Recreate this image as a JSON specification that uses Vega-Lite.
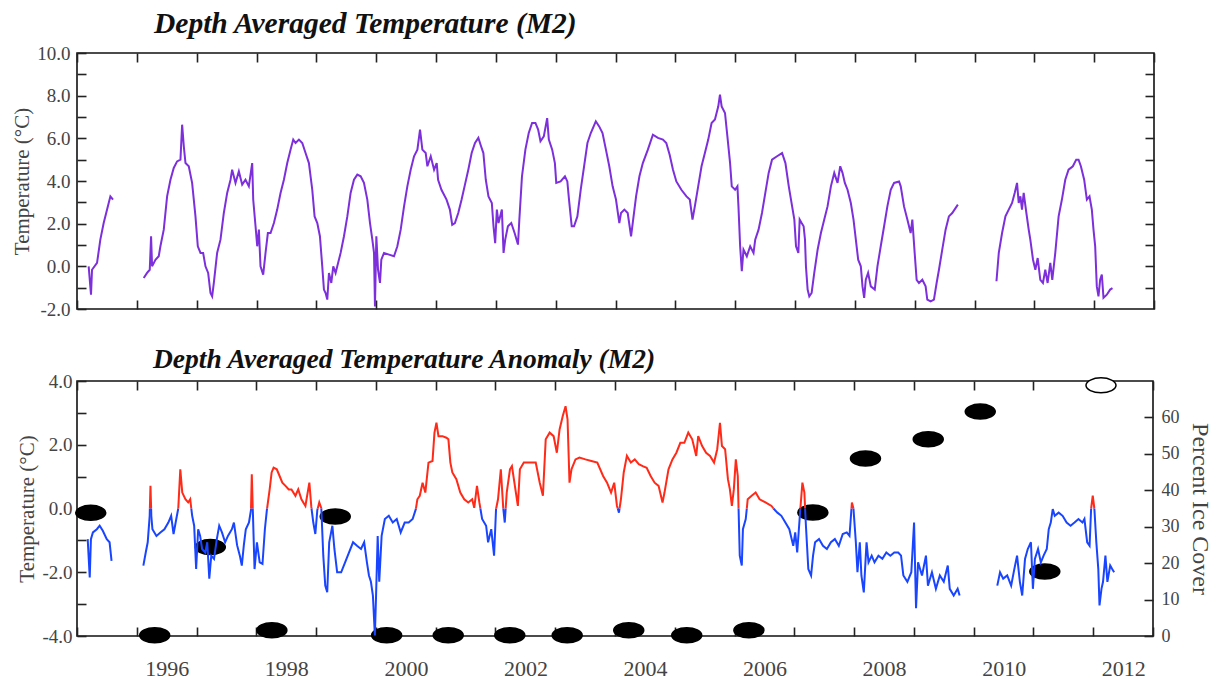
{
  "$schema": "https://vega.github.io/schema/vega-lite/v6.json",
  "background": "white",
  "padding": {"left": 10, "top": 7, "right": 8, "bottom": 0},
  "spacing": 24,
  "config": {
    "font": "Liberation Serif",
    "view": {"stroke": "#111", "strokeWidth": 1.6},
    "axis": {
      "domain": false, "grid": false, "tickColor": "#222", "tickWidth": 1.6, "tickSize": -9,
      "labelFont": "Liberation Serif", "labelFontSize": 19, "labelColor": "#444",
      "titleFont": "Liberation Serif", "titleFontWeight": "normal", "titleColor": "#444", "titleFontSize": 21,
      "labelOverlap": false, "labelFlush": false
    },
    "title": {"font": "Liberation Serif", "fontSize": 29, "fontWeight": "bold", "fontStyle": "italic", "anchor": "start", "frame": "group", "color": "#111"}
  },
  "datasets": {
    "temp": [
      {"t":1995.195,"v":0.00,"s":1},{"t":1995.234,"v":-1.33,"s":1},{"t":1995.251,"v":-0.16,"s":1},{"t":1995.335,"v":0.16,"s":1},{"t":1995.390,"v":1.25,"s":1},{"t":1995.446,"v":2.03,"s":1},{"t":1995.530,"v":2.97,"s":1},{"t":1995.558,"v":3.28,"s":1},{"t":1995.602,"v":3.13,"s":1},
      {"t":1996.115,"v":-0.55,"s":2},{"t":1996.171,"v":-0.31,"s":2},{"t":1996.216,"v":-0.16,"s":2},{"t":1996.238,"v":1.41,"s":2},{"t":1996.255,"v":0.00,"s":2},{"t":1996.311,"v":0.31,"s":2},{"t":1996.366,"v":0.47,"s":2},{"t":1996.394,"v":0.94,"s":2},{"t":1996.450,"v":1.72,"s":2},{"t":1996.506,"v":3.28,"s":2},{"t":1996.562,"v":4.06,"s":2},{"t":1996.617,"v":4.61,"s":2},{"t":1996.673,"v":4.92,"s":2},{"t":1996.729,"v":5.00,"s":2},{"t":1996.757,"v":6.64,"s":2},{"t":1996.785,"v":5.63,"s":2},{"t":1996.813,"v":4.84,"s":2},{"t":1996.868,"v":4.69,"s":2},{"t":1996.924,"v":3.91,"s":2},{"t":1996.980,"v":2.34,"s":2},{"t":1997.019,"v":0.94,"s":2},{"t":1997.064,"v":0.63,"s":2},{"t":1997.108,"v":0.63,"s":2},{"t":1997.147,"v":0.00,"s":2},{"t":1997.192,"v":-0.31,"s":2},{"t":1997.231,"v":-1.25,"s":2},{"t":1997.259,"v":-1.41,"s":2},{"t":1997.287,"v":-0.78,"s":2},{"t":1997.342,"v":0.63,"s":2},{"t":1997.398,"v":1.25,"s":2},{"t":1997.454,"v":2.50,"s":2},{"t":1997.510,"v":3.44,"s":2},{"t":1997.566,"v":4.06,"s":2},{"t":1997.593,"v":4.53,"s":2},{"t":1997.649,"v":3.91,"s":2},{"t":1997.705,"v":4.45,"s":2},{"t":1997.761,"v":3.83,"s":2},{"t":1997.816,"v":4.06,"s":2},{"t":1997.872,"v":3.75,"s":2},{"t":1997.928,"v":4.84,"s":2},{"t":1997.945,"v":3.13,"s":2},{"t":1997.984,"v":1.88,"s":2},{"t":1998.012,"v":0.94,"s":2},{"t":1998.040,"v":1.72,"s":2},{"t":1998.067,"v":0.00,"s":2},{"t":1998.112,"v":-0.39,"s":2},{"t":1998.151,"v":0.63,"s":2},{"t":1998.190,"v":1.56,"s":2},{"t":1998.235,"v":1.56,"s":2},{"t":1998.291,"v":2.03,"s":2},{"t":1998.346,"v":2.66,"s":2},{"t":1998.402,"v":3.44,"s":2},{"t":1998.458,"v":4.06,"s":2},{"t":1998.514,"v":4.84,"s":2},{"t":1998.569,"v":5.47,"s":2},{"t":1998.614,"v":5.94,"s":2},{"t":1998.653,"v":5.78,"s":2},{"t":1998.709,"v":5.94,"s":2},{"t":1998.765,"v":5.78,"s":2},{"t":1998.820,"v":5.31,"s":2},{"t":1998.876,"v":4.84,"s":2},{"t":1998.932,"v":3.59,"s":2},{"t":1998.971,"v":2.34,"s":2},{"t":1999.016,"v":2.03,"s":2},{"t":1999.060,"v":1.41,"s":2},{"t":1999.099,"v":0.00,"s":2},{"t":1999.127,"v":-1.09,"s":2},{"t":1999.155,"v":-1.25,"s":2},{"t":1999.183,"v":-1.56,"s":2},{"t":1999.211,"v":-0.31,"s":2},{"t":1999.250,"v":-0.78,"s":2},{"t":1999.283,"v":0.00,"s":2},{"t":1999.322,"v":-0.31,"s":2},{"t":1999.350,"v":0.00,"s":2},{"t":1999.406,"v":0.63,"s":2},{"t":1999.462,"v":1.41,"s":2},{"t":1999.518,"v":2.34,"s":2},{"t":1999.573,"v":3.44,"s":2},{"t":1999.629,"v":4.06,"s":2},{"t":1999.685,"v":4.30,"s":2},{"t":1999.741,"v":4.22,"s":2},{"t":1999.796,"v":3.91,"s":2},{"t":1999.852,"v":3.13,"s":2},{"t":1999.897,"v":2.03,"s":2},{"t":1999.936,"v":1.25,"s":2},{"t":1999.964,"v":0.63,"s":2},{"t":1999.980,"v":-1.88,"s":2},{"t":2000.003,"v":1.41,"s":2},{"t":2000.031,"v":-0.16,"s":2},{"t":2000.064,"v":-0.78,"s":2},{"t":2000.086,"v":0.31,"s":2},{"t":2000.131,"v":0.63,"s":2},{"t":2000.215,"v":0.55,"s":2},{"t":2000.298,"v":0.47,"s":2},{"t":2000.354,"v":0.94,"s":2},{"t":2000.410,"v":1.72,"s":2},{"t":2000.466,"v":2.81,"s":2},{"t":2000.521,"v":3.75,"s":2},{"t":2000.577,"v":4.53,"s":2},{"t":2000.633,"v":5.16,"s":2},{"t":2000.689,"v":5.47,"s":2},{"t":2000.733,"v":6.41,"s":2},{"t":2000.772,"v":5.47,"s":2},{"t":2000.828,"v":5.31,"s":2},{"t":2000.856,"v":4.69,"s":2},{"t":2000.912,"v":5.16,"s":2},{"t":2000.968,"v":4.53,"s":2},{"t":2001.012,"v":4.84,"s":2},
      {"t":2001.035,"v":4.06,"s":2},{"t":2001.091,"v":3.59,"s":2},{"t":2001.176,"v":3.13,"s":2},{"t":2001.232,"v":2.66,"s":2},{"t":2001.271,"v":1.95,"s":2},{"t":2001.316,"v":2.03,"s":2},{"t":2001.372,"v":2.50,"s":2},{"t":2001.428,"v":3.13,"s":2},{"t":2001.484,"v":3.83,"s":2},{"t":2001.540,"v":4.53,"s":2},{"t":2001.596,"v":5.31,"s":2},{"t":2001.652,"v":5.78,"s":2},{"t":2001.708,"v":6.02,"s":2},{"t":2001.753,"v":5.63,"s":2},{"t":2001.792,"v":5.31,"s":2},{"t":2001.832,"v":4.06,"s":2},{"t":2001.877,"v":3.28,"s":2},{"t":2001.933,"v":2.97,"s":2},{"t":2001.961,"v":1.88,"s":2},{"t":2001.989,"v":1.09,"s":2},{"t":2002.017,"v":2.66,"s":2},{"t":2002.045,"v":2.03,"s":2},{"t":2002.101,"v":2.66,"s":2},{"t":2002.129,"v":0.63,"s":2},{"t":2002.157,"v":1.25,"s":2},{"t":2002.202,"v":1.88,"s":2},{"t":2002.258,"v":2.03,"s":2},{"t":2002.314,"v":1.56,"s":2},{"t":2002.370,"v":1.02,"s":2},{"t":2002.393,"v":2.19,"s":2},{"t":2002.437,"v":4.22,"s":2},{"t":2002.494,"v":5.47,"s":2},{"t":2002.550,"v":6.25,"s":2},{"t":2002.606,"v":6.72,"s":2},{"t":2002.662,"v":6.72,"s":2},{"t":2002.707,"v":6.41,"s":2},{"t":2002.746,"v":5.86,"s":2},{"t":2002.802,"v":6.09,"s":2},{"t":2002.858,"v":6.95,"s":2},{"t":2002.886,"v":5.94,"s":2},{"t":2002.942,"v":5.47,"s":2},{"t":2002.987,"v":4.84,"s":2},{"t":2003.010,"v":3.91,"s":2},{"t":2003.082,"v":3.98,"s":2},{"t":2003.155,"v":4.22,"s":2},{"t":2003.195,"v":3.98,"s":2},{"t":2003.223,"v":3.13,"s":2},{"t":2003.268,"v":1.88,"s":2},{"t":2003.307,"v":1.88,"s":2},{"t":2003.363,"v":2.34,"s":2},{"t":2003.419,"v":3.59,"s":2},{"t":2003.475,"v":4.69,"s":2},{"t":2003.531,"v":5.78,"s":2},{"t":2003.587,"v":6.25,"s":2},{"t":2003.671,"v":6.80,"s":2},{"t":2003.727,"v":6.56,"s":2},{"t":2003.783,"v":6.25,"s":2},{"t":2003.840,"v":5.47,"s":2},{"t":2003.896,"v":4.69,"s":2},{"t":2003.952,"v":3.75,"s":2},{"t":2004.008,"v":3.13,"s":2},{"t":2004.064,"v":2.03,"s":2},{"t":2004.092,"v":2.50,"s":2},{"t":2004.148,"v":2.66,"s":2},{"t":2004.204,"v":2.50,"s":2},{"t":2004.260,"v":1.41,"s":2},{"t":2004.288,"v":2.03,"s":2},{"t":2004.344,"v":3.28,"s":2},{"t":2004.400,"v":4.22,"s":2},{"t":2004.457,"v":4.84,"s":2},{"t":2004.541,"v":5.47,"s":2},{"t":2004.625,"v":6.17,"s":2},{"t":2004.709,"v":6.02,"s":2},{"t":2004.793,"v":5.94,"s":2},{"t":2004.849,"v":5.78,"s":2},{"t":2004.905,"v":5.23,"s":2},{"t":2004.961,"v":4.53,"s":2},{"t":2005.017,"v":3.98,"s":2},{"t":2005.101,"v":3.59,"s":2},{"t":2005.186,"v":3.28,"s":2},{"t":2005.242,"v":3.13,"s":2},{"t":2005.287,"v":2.19,"s":2},{"t":2005.326,"v":2.81,"s":2},{"t":2005.382,"v":3.75,"s":2},{"t":2005.438,"v":4.69,"s":2},{"t":2005.494,"v":5.31,"s":2},{"t":2005.550,"v":5.94,"s":2},{"t":2005.606,"v":6.72,"s":2},{"t":2005.662,"v":6.88,"s":2},{"t":2005.718,"v":7.50,"s":2},{"t":2005.746,"v":8.05,"s":2},{"t":2005.774,"v":7.50,"s":2},{"t":2005.830,"v":7.19,"s":2},{"t":2005.870,"v":6.09,"s":2},{"t":2005.915,"v":4.84,"s":2},{"t":2005.943,"v":3.75,"s":2},{"t":2005.999,"v":3.59,"s":2},{"t":2006.038,"v":3.75,"s":2},{"t":2006.055,"v":2.81,"s":2},{"t":2006.083,"v":0.94,"s":2},{"t":2006.111,"v":-0.23,"s":2},{"t":2006.139,"v":0.78,"s":2},{"t":2006.195,"v":0.47,"s":2},{"t":2006.251,"v":0.94,"s":2},{"t":2006.307,"v":0.63,"s":2},{"t":2006.335,"v":1.25,"s":2},{"t":2006.391,"v":1.72,"s":2},{"t":2006.448,"v":2.50,"s":2},{"t":2006.504,"v":3.44,"s":2},{"t":2006.560,"v":4.38,"s":2},{"t":2006.616,"v":5.00,"s":2},{"t":2006.700,"v":5.16,"s":2},{"t":2006.784,"v":5.31,"s":2},{"t":2006.840,"v":4.84,"s":2},{"t":2006.896,"v":3.75,"s":2},{"t":2006.952,"v":2.81,"s":2},
      {"t":2006.989,"v":2.19,"s":2},{"t":2007.017,"v":0.94,"s":2},{"t":2007.056,"v":0.63,"s":2},{"t":2007.078,"v":2.19,"s":2},{"t":2007.111,"v":2.03,"s":2},{"t":2007.144,"v":1.88,"s":2},{"t":2007.167,"v":1.25,"s":2},{"t":2007.183,"v":0.00,"s":2},{"t":2007.211,"v":-1.09,"s":2},{"t":2007.239,"v":-1.41,"s":2},{"t":2007.278,"v":-1.25,"s":2},{"t":2007.322,"v":-0.31,"s":2},{"t":2007.378,"v":0.78,"s":2},{"t":2007.433,"v":1.56,"s":2},{"t":2007.489,"v":2.19,"s":2},{"t":2007.544,"v":2.81,"s":2},{"t":2007.600,"v":3.75,"s":2},{"t":2007.656,"v":4.38,"s":2},{"t":2007.711,"v":3.91,"s":2},{"t":2007.756,"v":4.69,"s":2},{"t":2007.794,"v":4.38,"s":2},{"t":2007.833,"v":3.91,"s":2},{"t":2007.878,"v":3.59,"s":2},{"t":2007.933,"v":2.97,"s":2},{"t":2007.978,"v":2.19,"s":2},{"t":2008.017,"v":1.25,"s":2},{"t":2008.056,"v":0.31,"s":2},{"t":2008.100,"v":0.00,"s":2},{"t":2008.128,"v":-0.94,"s":2},{"t":2008.156,"v":-1.48,"s":2},{"t":2008.183,"v":-0.63,"s":2},{"t":2008.222,"v":-0.31,"s":2},{"t":2008.267,"v":-0.94,"s":2},{"t":2008.333,"v":-1.09,"s":2},{"t":2008.378,"v":0.00,"s":2},{"t":2008.433,"v":0.94,"s":2},{"t":2008.489,"v":1.88,"s":2},{"t":2008.544,"v":2.81,"s":2},{"t":2008.600,"v":3.59,"s":2},{"t":2008.656,"v":3.91,"s":2},{"t":2008.739,"v":3.98,"s":2},{"t":2008.767,"v":3.75,"s":2},{"t":2008.822,"v":2.81,"s":2},{"t":2008.878,"v":2.19,"s":2},{"t":2008.933,"v":1.56,"s":2},{"t":2008.961,"v":2.19,"s":2},{"t":2009.000,"v":0.63,"s":2},{"t":2009.033,"v":-0.63,"s":2},{"t":2009.072,"v":-0.78,"s":2},{"t":2009.128,"v":-0.63,"s":2},{"t":2009.183,"v":-0.94,"s":2},{"t":2009.211,"v":-1.56,"s":2},{"t":2009.267,"v":-1.64,"s":2},{"t":2009.322,"v":-1.56,"s":2},{"t":2009.367,"v":-0.78,"s":2},{"t":2009.406,"v":-0.16,"s":2},{"t":2009.461,"v":0.78,"s":2},{"t":2009.517,"v":1.72,"s":2},{"t":2009.572,"v":2.34,"s":2},{"t":2009.628,"v":2.50,"s":2},{"t":2009.683,"v":2.73,"s":2},{"t":2009.722,"v":2.89,"s":2},
      {"t":2010.367,"v":-0.70,"s":3},{"t":2010.406,"v":0.63,"s":3},{"t":2010.461,"v":1.56,"s":3},{"t":2010.517,"v":2.34,"s":3},{"t":2010.572,"v":2.66,"s":3},{"t":2010.628,"v":2.97,"s":3},{"t":2010.672,"v":3.44,"s":3},{"t":2010.711,"v":3.91,"s":3},{"t":2010.739,"v":2.97,"s":3},{"t":2010.767,"v":3.28,"s":3},{"t":2010.794,"v":2.66,"s":3},{"t":2010.822,"v":3.44,"s":3},{"t":2010.867,"v":2.50,"s":3},{"t":2010.906,"v":1.72,"s":3},{"t":2010.933,"v":1.25,"s":3},{"t":2010.978,"v":0.31,"s":3},{"t":2011.017,"v":-0.16,"s":3},{"t":2011.056,"v":0.39,"s":3},{"t":2011.100,"v":-0.63,"s":3},{"t":2011.144,"v":-0.78,"s":3},{"t":2011.183,"v":-0.16,"s":3},{"t":2011.222,"v":-0.78,"s":3},{"t":2011.267,"v":0.16,"s":3},{"t":2011.300,"v":-0.63,"s":3},{"t":2011.350,"v":0.63,"s":3},{"t":2011.406,"v":2.34,"s":3},{"t":2011.461,"v":3.13,"s":3},{"t":2011.517,"v":4.06,"s":3},{"t":2011.572,"v":4.53,"s":3},{"t":2011.644,"v":4.69,"s":3},{"t":2011.700,"v":5.00,"s":3},{"t":2011.739,"v":5.00,"s":3},{"t":2011.778,"v":4.69,"s":3},{"t":2011.833,"v":4.06,"s":3},{"t":2011.878,"v":3.13,"s":3},{"t":2011.922,"v":3.28,"s":3},{"t":2011.961,"v":2.66,"s":3},{"t":2011.989,"v":1.72,"s":3},{"t":2012.017,"v":0.94,"s":3},{"t":2012.044,"v":-0.94,"s":3},{"t":2012.072,"v":-1.41,"s":3},{"t":2012.100,"v":-0.63,"s":3},{"t":2012.128,"v":-0.39,"s":3},{"t":2012.156,"v":-1.48,"s":3},{"t":2012.211,"v":-1.33,"s":3},{"t":2012.267,"v":-1.09,"s":3},{"t":2012.306,"v":-1.02,"s":3}
    ],
    "anom": [
      {"t":1995.179,"v":-0.96,"s":0,"c":"neg"},{"t":1995.213,"v":-2.16,"s":0,"c":"neg"},{"t":1995.233,"v":-0.96,"s":0,"c":"neg"},{"t":1995.266,"v":-0.75,"s":0,"c":"neg"},{"t":1995.332,"v":-0.65,"s":0,"c":"neg"},{"t":1995.379,"v":-0.54,"s":0,"c":"neg"},{"t":1995.432,"v":-0.70,"s":0,"c":"neg"},{"t":1995.498,"v":-0.96,"s":0,"c":"neg"},{"t":1995.545,"v":-1.06,"s":0,"c":"neg"},{"t":1995.578,"v":-1.64,"s":0,"c":"neg"},
      {"t":1996.110,"v":-1.79,"s":1,"c":"neg"},{"t":1996.150,"v":-1.38,"s":1,"c":"neg"},{"t":1996.183,"v":-1.06,"s":1,"c":"neg"},{"t":1996.216,"v":-0.23,"s":1,"c":"neg"},{"t":1996.219,"v":0,"s":1,"c":"neg"},
      {"t":1996.219,"v":0,"s":2,"c":"pos"},{"t":1996.229,"v":0.71,"s":2,"c":"pos"},{"t":1996.240,"v":0,"s":2,"c":"pos"},
      {"t":1996.240,"v":0,"s":3,"c":"neg"},{"t":1996.243,"v":-0.23,"s":3,"c":"neg"},{"t":1996.262,"v":-0.65,"s":3,"c":"neg"},{"t":1996.329,"v":-0.86,"s":3,"c":"neg"},{"t":1996.395,"v":-0.75,"s":3,"c":"neg"},{"t":1996.462,"v":-0.65,"s":3,"c":"neg"},{"t":1996.528,"v":-0.44,"s":3,"c":"neg"},{"t":1996.575,"v":-0.23,"s":3,"c":"neg"},{"t":1996.615,"v":-0.80,"s":3,"c":"neg"},{"t":1996.661,"v":-0.33,"s":3,"c":"neg"},{"t":1996.694,"v":0,"s":3,"c":"neg"},
      {"t":1996.694,"v":0,"s":4,"c":"pos"},{"t":1996.728,"v":1.23,"s":4,"c":"pos"},{"t":1996.761,"v":0.50,"s":4,"c":"pos"},{"t":1996.814,"v":0.29,"s":4,"c":"pos"},{"t":1996.860,"v":0.19,"s":4,"c":"pos"},{"t":1996.894,"v":0.29,"s":4,"c":"pos"},{"t":1996.912,"v":0,"s":4,"c":"pos"},
      {"t":1996.912,"v":0,"s":5,"c":"neg"},{"t":1996.927,"v":-0.23,"s":5,"c":"neg"},{"t":1996.960,"v":-0.54,"s":5,"c":"neg"},{"t":1996.993,"v":-1.90,"s":5,"c":"neg"},{"t":1997.027,"v":-0.65,"s":5,"c":"neg"},{"t":1997.060,"v":-0.86,"s":5,"c":"neg"},{"t":1997.093,"v":-1.27,"s":5,"c":"neg"},{"t":1997.146,"v":-1.38,"s":5,"c":"neg"},{"t":1997.179,"v":-1.06,"s":5,"c":"neg"},{"t":1997.213,"v":-2.20,"s":5,"c":"neg"},{"t":1997.246,"v":-1.48,"s":5,"c":"neg"},{"t":1997.292,"v":-1.58,"s":5,"c":"neg"},{"t":1997.339,"v":-0.96,"s":5,"c":"neg"},{"t":1997.379,"v":-0.54,"s":5,"c":"neg"},{"t":1997.425,"v":-0.75,"s":5,"c":"neg"},{"t":1997.478,"v":-1.06,"s":5,"c":"neg"},{"t":1997.525,"v":-0.86,"s":5,"c":"neg"},{"t":1997.591,"v":-0.65,"s":5,"c":"neg"},{"t":1997.625,"v":-0.44,"s":5,"c":"neg"},{"t":1997.678,"v":-1.15,"s":5,"c":"neg"},{"t":1997.724,"v":-1.48,"s":5,"c":"neg"},{"t":1997.757,"v":-1.79,"s":5,"c":"neg"},{"t":1997.791,"v":-1.15,"s":5,"c":"neg"},{"t":1997.824,"v":-0.65,"s":5,"c":"neg"},{"t":1997.877,"v":-0.44,"s":5,"c":"neg"},{"t":1997.910,"v":-0.05,"s":5,"c":"neg"},{"t":1997.911,"v":0,"s":5,"c":"neg"},
      {"t":1997.911,"v":0,"s":6,"c":"pos"},{"t":1997.924,"v":1.07,"s":6,"c":"pos"},{"t":1997.940,"v":0,"s":6,"c":"pos"},
      {"t":1997.940,"v":0,"s":7,"c":"neg"},{"t":1997.944,"v":-0.23,"s":7,"c":"neg"},{"t":1997.970,"v":-1.90,"s":7,"c":"neg"},{"t":1998.010,"v":-1.06,"s":7,"c":"neg"},{"t":1998.056,"v":-1.69,"s":7,"c":"neg"},{"t":1998.103,"v":-1.74,"s":7,"c":"neg"},{"t":1998.143,"v":-0.65,"s":7,"c":"neg"},{"t":1998.176,"v":-0.05,"s":7,"c":"neg"},{"t":1998.180,"v":0,"s":7,"c":"neg"},
      {"t":1998.180,"v":0,"s":8,"c":"pos"},{"t":1998.223,"v":0.60,"s":8,"c":"pos"},{"t":1998.256,"v":1.13,"s":8,"c":"pos"},{"t":1998.289,"v":1.28,"s":8,"c":"pos"},{"t":1998.342,"v":1.23,"s":8,"c":"pos"},{"t":1998.389,"v":1.02,"s":8,"c":"pos"},{"t":1998.435,"v":0.81,"s":8,"c":"pos"},{"t":1998.488,"v":0.71,"s":8,"c":"pos"},{"t":1998.542,"v":0.60,"s":8,"c":"pos"},{"t":1998.588,"v":0.60,"s":8,"c":"pos"},{"t":1998.654,"v":0.40,"s":8,"c":"pos"},{"t":1998.701,"v":0.60,"s":8,"c":"pos"},{"t":1998.754,"v":0.29,"s":8,"c":"pos"},{"t":1998.821,"v":0.08,"s":8,"c":"pos"},{"t":1998.887,"v":0.81,"s":8,"c":"pos"},{"t":1998.920,"v":0.05,"s":8,"c":"pos"},{"t":1998.923,"v":0,"s":8,"c":"pos"},
      {"t":1998.923,"v":0,"s":9,"c":"neg"},{"t":1998.953,"v":-0.44,"s":9,"c":"neg"},{"t":1998.987,"v":-0.80,"s":9,"c":"neg"},{"t":1999.020,"v":-0.05,"s":9,"c":"neg"},{"t":1999.027,"v":0,"s":9,"c":"neg"},
      {"t":1999.027,"v":0,"s":10,"c":"pos"},{"t":1999.053,"v":0.19,"s":10,"c":"pos"},{"t":1999.086,"v":0.02,"s":10,"c":"pos"},{"t":1999.087,"v":0,"s":10,"c":"pos"},
      {"t":1999.087,"v":0,"s":11,"c":"neg"},{"t":1999.120,"v":-1.48,"s":11,"c":"neg"},{"t":1999.153,"v":-2.42,"s":11,"c":"neg"},{"t":1999.186,"v":-2.63,"s":11,"c":"neg"},{"t":1999.219,"v":-1.06,"s":11,"c":"neg"},{"t":1999.272,"v":-0.54,"s":11,"c":"neg"},{"t":1999.306,"v":-1.27,"s":11,"c":"neg"},{"t":1999.352,"v":-2.00,"s":11,"c":"neg"},{"t":1999.419,"v":-2.00,"s":11,"c":"neg"},{"t":1999.485,"v":-1.69,"s":11,"c":"neg"},{"t":1999.551,"v":-1.38,"s":11,"c":"neg"},{"t":1999.618,"v":-1.06,"s":11,"c":"neg"},{"t":1999.684,"v":-1.17,"s":11,"c":"neg"},{"t":1999.751,"v":-1.27,"s":11,"c":"neg"},{"t":1999.804,"v":-1.06,"s":11,"c":"neg"},{"t":1999.850,"v":-1.69,"s":11,"c":"neg"},{"t":1999.884,"v":-2.10,"s":11,"c":"neg"},{"t":1999.917,"v":-2.30,"s":11,"c":"neg"},{"t":1999.950,"v":-2.73,"s":11,"c":"neg"},{"t":1999.983,"v":-3.98,"s":11,"c":"neg"},{"t":2000.003,"v":-2.73,"s":11,"c":"neg"},{"t":2000.030,"v":-0.86,"s":11,"c":"neg"},{"t":2000.056,"v":-2.30,"s":11,"c":"neg"},{"t":2000.096,"v":-0.86,"s":11,"c":"neg"},{"t":2000.150,"v":-0.33,"s":11,"c":"neg"},{"t":2000.216,"v":-0.23,"s":11,"c":"neg"},{"t":2000.282,"v":-0.44,"s":11,"c":"neg"},{"t":2000.349,"v":-0.33,"s":11,"c":"neg"},{"t":2000.415,"v":-0.75,"s":11,"c":"neg"},{"t":2000.482,"v":-0.44,"s":11,"c":"neg"},{"t":2000.548,"v":-0.44,"s":11,"c":"neg"},{"t":2000.615,"v":-0.33,"s":11,"c":"neg"},{"t":2000.668,"v":-0.02,"s":11,"c":"neg"},{"t":2000.670,"v":0,"s":11,"c":"neg"},
      {"t":2000.670,"v":0,"s":12,"c":"pos"},{"t":2000.694,"v":0.29,"s":12,"c":"pos"},{"t":2000.734,"v":0.40,"s":12,"c":"pos"},{"t":2000.781,"v":0.81,"s":12,"c":"pos"},{"t":2000.827,"v":0.50,"s":12,"c":"pos"},{"t":2000.880,"v":1.44,"s":12,"c":"pos"},{"t":2000.947,"v":1.49,"s":12,"c":"pos"},{"t":2000.980,"v":2.38,"s":12,"c":"pos"},{"t":2001.013,"v":2.69,"s":12,"c":"pos"},{"t":2001.047,"v":2.27,"s":12,"c":"pos"},{"t":2001.113,"v":2.27,"s":12,"c":"pos"},{"t":2001.179,"v":2.22,"s":12,"c":"pos"},{"t":2001.213,"v":2.17,"s":12,"c":"pos"},{"t":2001.246,"v":1.44,"s":12,"c":"pos"},{"t":2001.279,"v":1.13,"s":12,"c":"pos"},{"t":2001.346,"v":0.92,"s":12,"c":"pos"},{"t":2001.412,"v":0.50,"s":12,"c":"pos"},{"t":2001.478,"v":0.29,"s":12,"c":"pos"},{"t":2001.545,"v":0.19,"s":12,"c":"pos"},{"t":2001.611,"v":0.29,"s":12,"c":"pos"},{"t":2001.645,"v":0.02,"s":12,"c":"pos"},{"t":2001.691,"v":0.71,"s":12,"c":"pos"},{"t":2001.731,"v":0.19,"s":12,"c":"pos"},{"t":2001.748,"v":0,"s":12,"c":"pos"},
      {"t":2001.748,"v":0,"s":13,"c":"neg"},{"t":2001.777,"v":-0.33,"s":13,"c":"neg"},{"t":2001.844,"v":-0.54,"s":13,"c":"neg"},{"t":2001.877,"v":-1.06,"s":13,"c":"neg"},{"t":2001.930,"v":-0.65,"s":13,"c":"neg"},{"t":2001.977,"v":-1.48,"s":13,"c":"neg"},{"t":2002.010,"v":-0.02,"s":13,"c":"neg"},{"t":2002.012,"v":0,"s":13,"c":"neg"},
      {"t":2002.012,"v":0,"s":14,"c":"pos"},{"t":2002.043,"v":0.29,"s":14,"c":"pos"},{"t":2002.090,"v":1.23,"s":14,"c":"pos"},{"t":2002.130,"v":0.02,"s":14,"c":"pos"},{"t":2002.131,"v":0,"s":14,"c":"pos"},
      {"t":2002.131,"v":0,"s":15,"c":"neg"},{"t":2002.156,"v":-0.44,"s":15,"c":"neg"},{"t":2002.171,"v":0,"s":15,"c":"neg"},
      {"t":2002.171,"v":0,"s":16,"c":"pos"},{"t":2002.189,"v":0.50,"s":16,"c":"pos"},{"t":2002.243,"v":1.23,"s":16,"c":"pos"},{"t":2002.276,"v":1.33,"s":16,"c":"pos"},{"t":2002.342,"v":0.50,"s":16,"c":"pos"},{"t":2002.375,"v":0.08,"s":16,"c":"pos"},{"t":2002.409,"v":1.23,"s":16,"c":"pos"},{"t":2002.475,"v":1.44,"s":16,"c":"pos"},{"t":2002.575,"v":1.44,"s":16,"c":"pos"},{"t":2002.674,"v":1.44,"s":16,"c":"pos"},{"t":2002.741,"v":0.81,"s":16,"c":"pos"},{"t":2002.794,"v":0.40,"s":16,"c":"pos"},{"t":2002.841,"v":2.17,"s":16,"c":"pos"},{"t":2002.907,"v":2.38,"s":16,"c":"pos"},{"t":2002.973,"v":2.27,"s":16,"c":"pos"},{"t":2003.027,"v":1.75,"s":16,"c":"pos"},{"t":2003.073,"v":2.48,"s":16,"c":"pos"},{"t":2003.126,"v":2.90,"s":16,"c":"pos"},{"t":2003.173,"v":3.21,"s":16,"c":"pos"},{"t":2003.206,"v":2.80,"s":16,"c":"pos"},{"t":2003.239,"v":0.81,"s":16,"c":"pos"},{"t":2003.272,"v":1.23,"s":16,"c":"pos"},{"t":2003.339,"v":1.54,"s":16,"c":"pos"},{"t":2003.405,"v":1.60,"s":16,"c":"pos"},{"t":2003.505,"v":1.54,"s":16,"c":"pos"},{"t":2003.605,"v":1.49,"s":16,"c":"pos"},{"t":2003.704,"v":1.44,"s":16,"c":"pos"},{"t":2003.801,"v":1.02,"s":16,"c":"pos"},{"t":2003.867,"v":0.81,"s":16,"c":"pos"},{"t":2003.934,"v":0.50,"s":16,"c":"pos"},{"t":2003.987,"v":0.81,"s":16,"c":"pos"},{"t":2004.033,"v":0.08,"s":16,"c":"pos"},{"t":2004.046,"v":0,"s":16,"c":"pos"},
      {"t":2004.046,"v":0,"s":17,"c":"neg"},{"t":2004.066,"v":-0.13,"s":17,"c":"neg"},{"t":2004.076,"v":0,"s":17,"c":"neg"},
      {"t":2004.076,"v":0,"s":18,"c":"pos"},{"t":2004.099,"v":0.29,"s":18,"c":"pos"},{"t":2004.146,"v":1.13,"s":18,"c":"pos"},{"t":2004.199,"v":1.65,"s":18,"c":"pos"},{"t":2004.265,"v":1.44,"s":18,"c":"pos"},{"t":2004.331,"v":1.54,"s":18,"c":"pos"},{"t":2004.398,"v":1.39,"s":18,"c":"pos"},{"t":2004.464,"v":1.33,"s":18,"c":"pos"},{"t":2004.530,"v":1.28,"s":18,"c":"pos"},{"t":2004.596,"v":1.02,"s":18,"c":"pos"},{"t":2004.663,"v":0.81,"s":18,"c":"pos"},{"t":2004.729,"v":0.71,"s":18,"c":"pos"},{"t":2004.795,"v":0.19,"s":18,"c":"pos"},{"t":2004.828,"v":0.50,"s":18,"c":"pos"},{"t":2004.895,"v":1.23,"s":18,"c":"pos"},{"t":2004.961,"v":1.54,"s":18,"c":"pos"},{"t":2005.027,"v":1.75,"s":18,"c":"pos"},{"t":2005.093,"v":2.06,"s":18,"c":"pos"},{"t":2005.160,"v":2.06,"s":18,"c":"pos"},{"t":2005.226,"v":2.38,"s":18,"c":"pos"},{"t":2005.292,"v":2.17,"s":18,"c":"pos"},{"t":2005.359,"v":1.65,"s":18,"c":"pos"},{"t":2005.392,"v":2.27,"s":18,"c":"pos"},{"t":2005.458,"v":1.96,"s":18,"c":"pos"},{"t":2005.524,"v":1.75,"s":18,"c":"pos"},{"t":2005.590,"v":1.65,"s":18,"c":"pos"},{"t":2005.657,"v":1.44,"s":18,"c":"pos"},{"t":2005.710,"v":1.86,"s":18,"c":"pos"},{"t":2005.756,"v":2.69,"s":18,"c":"pos"},{"t":2005.789,"v":1.96,"s":18,"c":"pos"},{"t":2005.842,"v":1.86,"s":18,"c":"pos"},{"t":2005.889,"v":0.92,"s":18,"c":"pos"},{"t":2005.922,"v":0.60,"s":18,"c":"pos"},{"t":2005.955,"v":0.08,"s":18,"c":"pos"},{"t":2005.988,"v":0.60,"s":18,"c":"pos"},{"t":2006.021,"v":1.54,"s":18,"c":"pos"},{"t":2006.054,"v":1.02,"s":18,"c":"pos"},{"t":2006.067,"v":0,"s":18,"c":"pos"},
      {"t":2006.067,"v":0,"s":19,"c":"neg"},{"t":2006.087,"v":-1.48,"s":19,"c":"neg"},{"t":2006.121,"v":-1.79,"s":19,"c":"neg"},{"t":2006.140,"v":-0.65,"s":19,"c":"neg"},{"t":2006.187,"v":-0.33,"s":19,"c":"neg"},{"t":2006.205,"v":0,"s":19,"c":"neg"},
      {"t":2006.205,"v":0,"s":20,"c":"pos"},{"t":2006.220,"v":0.29,"s":20,"c":"pos"},{"t":2006.286,"v":0.40,"s":20,"c":"pos"},{"t":2006.353,"v":0.50,"s":20,"c":"pos"},{"t":2006.419,"v":0.29,"s":20,"c":"pos"},{"t":2006.518,"v":0.19,"s":20,"c":"pos"},{"t":2006.618,"v":0.08,"s":20,"c":"pos"},{"t":2006.651,"v":0,"s":20,"c":"pos"},
      {"t":2006.651,"v":0,"s":21,"c":"neg"},{"t":2006.717,"v":-0.13,"s":21,"c":"neg"},{"t":2006.783,"v":-0.23,"s":21,"c":"neg"},{"t":2006.850,"v":-0.44,"s":21,"c":"neg"},{"t":2006.916,"v":-0.65,"s":21,"c":"neg"},{"t":2006.982,"v":-1.17,"s":21,"c":"neg"},{"t":2007.015,"v":-0.75,"s":21,"c":"neg"},{"t":2007.048,"v":-1.38,"s":21,"c":"neg"},{"t":2007.101,"v":0,"s":21,"c":"neg"},
      {"t":2007.101,"v":0,"s":22,"c":"pos"},{"t":2007.135,"v":0.81,"s":22,"c":"pos"},{"t":2007.168,"v":0.50,"s":22,"c":"pos"},{"t":2007.180,"v":0,"s":22,"c":"pos"},
      {"t":2007.180,"v":0,"s":23,"c":"neg"},{"t":2007.194,"v":-0.54,"s":23,"c":"neg"},{"t":2007.234,"v":-1.90,"s":23,"c":"neg"},{"t":2007.280,"v":-2.10,"s":23,"c":"neg"},{"t":2007.313,"v":-1.48,"s":23,"c":"neg"},{"t":2007.347,"v":-1.06,"s":23,"c":"neg"},{"t":2007.413,"v":-0.96,"s":23,"c":"neg"},{"t":2007.479,"v":-1.17,"s":23,"c":"neg"},{"t":2007.545,"v":-1.27,"s":23,"c":"neg"},{"t":2007.612,"v":-1.06,"s":23,"c":"neg"},{"t":2007.678,"v":-0.96,"s":23,"c":"neg"},{"t":2007.744,"v":-1.17,"s":23,"c":"neg"},{"t":2007.810,"v":-0.80,"s":23,"c":"neg"},{"t":2007.877,"v":-0.75,"s":23,"c":"neg"},{"t":2007.923,"v":-0.86,"s":23,"c":"neg"},{"t":2007.956,"v":0,"s":23,"c":"neg"},
      {"t":2007.956,"v":0,"s":24,"c":"pos"},{"t":2007.963,"v":0.19,"s":24,"c":"pos"},{"t":2007.989,"v":0,"s":24,"c":"pos"},
      {"t":2007.989,"v":0,"s":25,"c":"neg"},{"t":2008.029,"v":-1.06,"s":25,"c":"neg"},{"t":2008.056,"v":-2.00,"s":25,"c":"neg"},{"t":2008.095,"v":-1.06,"s":25,"c":"neg"},{"t":2008.122,"v":-2.10,"s":25,"c":"neg"},{"t":2008.162,"v":-2.63,"s":25,"c":"neg"},{"t":2008.208,"v":-1.06,"s":25,"c":"neg"},{"t":2008.241,"v":-1.69,"s":25,"c":"neg"},{"t":2008.294,"v":-1.48,"s":25,"c":"neg"},{"t":2008.341,"v":-1.69,"s":25,"c":"neg"},{"t":2008.407,"v":-1.48,"s":25,"c":"neg"},{"t":2008.473,"v":-1.58,"s":25,"c":"neg"},{"t":2008.539,"v":-1.38,"s":25,"c":"neg"},{"t":2008.606,"v":-1.48,"s":25,"c":"neg"},{"t":2008.672,"v":-1.38,"s":25,"c":"neg"},{"t":2008.738,"v":-1.38,"s":25,"c":"neg"},{"t":2008.785,"v":-1.48,"s":25,"c":"neg"},{"t":2008.824,"v":-2.10,"s":25,"c":"neg"},{"t":2008.891,"v":-2.30,"s":25,"c":"neg"},{"t":2008.957,"v":-2.00,"s":25,"c":"neg"},{"t":2009.003,"v":-0.44,"s":25,"c":"neg"},{"t":2009.036,"v":-3.13,"s":25,"c":"neg"},{"t":2009.070,"v":-1.69,"s":25,"c":"neg"},{"t":2009.136,"v":-2.10,"s":25,"c":"neg"},{"t":2009.202,"v":-1.48,"s":25,"c":"neg"},{"t":2009.235,"v":-2.42,"s":25,"c":"neg"},{"t":2009.302,"v":-2.00,"s":25,"c":"neg"},{"t":2009.368,"v":-2.52,"s":25,"c":"neg"},{"t":2009.434,"v":-2.10,"s":25,"c":"neg"},{"t":2009.500,"v":-2.30,"s":25,"c":"neg"},{"t":2009.567,"v":-1.79,"s":25,"c":"neg"},{"t":2009.600,"v":-2.52,"s":25,"c":"neg"},{"t":2009.666,"v":-2.73,"s":25,"c":"neg"},{"t":2009.732,"v":-2.52,"s":25,"c":"neg"},{"t":2009.765,"v":-2.73,"s":25,"c":"neg"},
      {"t":2010.395,"v":-2.42,"s":26,"c":"neg"},{"t":2010.441,"v":-2.00,"s":26,"c":"neg"},{"t":2010.494,"v":-2.20,"s":26,"c":"neg"},{"t":2010.561,"v":-2.10,"s":26,"c":"neg"},{"t":2010.627,"v":-2.42,"s":26,"c":"neg"},{"t":2010.680,"v":-1.90,"s":26,"c":"neg"},{"t":2010.726,"v":-1.48,"s":26,"c":"neg"},{"t":2010.773,"v":-2.30,"s":26,"c":"neg"},{"t":2010.812,"v":-2.73,"s":26,"c":"neg"},{"t":2010.859,"v":-1.58,"s":26,"c":"neg"},{"t":2010.905,"v":-1.27,"s":26,"c":"neg"},{"t":2010.958,"v":-1.06,"s":26,"c":"neg"},{"t":2010.991,"v":-2.52,"s":26,"c":"neg"},{"t":2011.024,"v":-1.58,"s":26,"c":"neg"},{"t":2011.077,"v":-1.27,"s":26,"c":"neg"},{"t":2011.124,"v":-1.69,"s":26,"c":"neg"},{"t":2011.170,"v":-1.48,"s":26,"c":"neg"},{"t":2011.223,"v":-1.27,"s":26,"c":"neg"},{"t":2011.256,"v":-0.65,"s":26,"c":"neg"},{"t":2011.290,"v":-0.44,"s":26,"c":"neg"},{"t":2011.323,"v":-0.02,"s":26,"c":"neg"},{"t":2011.356,"v":-0.23,"s":26,"c":"neg"},{"t":2011.422,"v":-0.13,"s":26,"c":"neg"},{"t":2011.488,"v":-0.23,"s":26,"c":"neg"},{"t":2011.555,"v":-0.44,"s":26,"c":"neg"},{"t":2011.621,"v":-0.54,"s":26,"c":"neg"},{"t":2011.687,"v":-0.44,"s":26,"c":"neg"},{"t":2011.753,"v":-0.33,"s":26,"c":"neg"},{"t":2011.820,"v":-0.44,"s":26,"c":"neg"},{"t":2011.853,"v":-0.33,"s":26,"c":"neg"},{"t":2011.899,"v":-1.06,"s":26,"c":"neg"},{"t":2011.939,"v":-1.17,"s":26,"c":"neg"},{"t":2011.965,"v":0,"s":26,"c":"neg"},
      {"t":2011.965,"v":0,"s":27,"c":"pos"},{"t":2011.992,"v":0.40,"s":27,"c":"pos"},{"t":2012.019,"v":0,"s":27,"c":"pos"},
      {"t":2012.019,"v":0,"s":28,"c":"neg"},{"t":2012.052,"v":-1.06,"s":28,"c":"neg"},{"t":2012.085,"v":-1.90,"s":28,"c":"neg"},{"t":2012.105,"v":-3.04,"s":28,"c":"neg"},{"t":2012.138,"v":-2.52,"s":28,"c":"neg"},{"t":2012.164,"v":-2.30,"s":28,"c":"neg"},{"t":2012.204,"v":-1.48,"s":28,"c":"neg"},{"t":2012.237,"v":-2.30,"s":28,"c":"neg"},{"t":2012.284,"v":-1.79,"s":28,"c":"neg"},{"t":2012.317,"v":-1.90,"s":28,"c":"neg"},{"t":2012.350,"v":-2.00,"s":28,"c":"neg"}
    ],
    "ice": [
      {"t":1995.23,"p":33.8,"h":false},{"t":1996.30,"p":0.2,"h":false},{"t":1997.23,"p":24.4,"h":false},{"t":1998.26,"p":1.6,"h":false},{"t":1999.32,"p":32.8,"h":false},{"t":2000.18,"p":0.2,"h":false},{"t":2001.21,"p":0.2,"h":false},{"t":2002.24,"p":0.2,"h":false},{"t":2003.20,"p":0.2,"h":false},{"t":2004.23,"p":1.6,"h":false},{"t":2005.20,"p":0.2,"h":false},{"t":2006.24,"p":1.6,"h":false},{"t":2007.31,"p":33.9,"h":false},{"t":2008.19,"p":48.7,"h":false},{"t":2009.24,"p":54.0,"h":false},{"t":2010.11,"p":61.6,"h":false},{"t":2011.19,"p":17.7,"h":false},{"t":2012.13,"p":68.8,"h":true}
    ]
  },
  "vconcat": [
    {
      "title": {"text": "Depth Averaged Temperature (M2)", "dx": 77, "offset": 5, "fontSize": 29.5},
      "width": 1077, "height": 256,
      "data": {"name": "temp"},
      "layer": [
        {
          "mark": {"type": "line", "color": "#7c2fdb", "strokeWidth": 2},
          "encoding": {
            "x": {"field": "t", "type": "quantitative", "scale": {"domain": [1995, 2013], "nice": false, "zero": false},
                  "axis": {"orient": "bottom", "values": [1995,1996,1997,1998,1999,2000,2001,2002,2003,2004,2005,2006,2007,2008,2009,2010,2011,2012,2013], "labels": false, "title": null}},
            "y": {"field": "v", "type": "quantitative", "scale": {"domain": [-2, 10], "nice": false, "zero": false},
                  "axis": {"orient": "left", "values": [-2,-1,0,1,2,3,4,5,6,7,8,9,10], "labelExpr": "datum.value % 2 == 0 ? ((datum.value < 0 ? '-' : '') + format(abs(datum.value), '.1f')) : ''", "labelPadding": 16, "title": "Temperature (°C)", "titlePadding": 4}},
            "detail": {"field": "s"}
          }
        },
        {
          "mark": {"type": "line", "opacity": 0},
          "encoding": {
            "x": {"field": "t", "type": "quantitative", "scale": {"domain": [1995, 2013], "nice": false, "zero": false},
                  "axis": {"orient": "top", "values": [1995,1996,1997,1998,1999,2000,2001,2002,2003,2004,2005,2006,2007,2008,2009,2010,2011,2012,2013], "labels": false, "title": null}},
            "y": {"field": "v", "type": "quantitative", "scale": {"domain": [-2, 10], "nice": false, "zero": false},
                  "axis": {"orient": "right", "values": [-1,0,1,2,3,4,5,6,7,8,9], "labels": false, "title": null}},
            "detail": {"field": "s"}
          }
        }
      ],
      "resolve": {"scale": {"x": "independent", "y": "independent"}}
    },
    {
      "title": {"text": "Depth Averaged Temperature Anomaly (M2)", "dx": 76, "offset": -1, "fontSize": 27.5},
      "width": 1076, "height": 255,
      "layer": [
        {
          "data": {"name": "ice"},
          "mark": {"type": "point", "filled": true, "shape": "M-1,0A1,0.5,0,1,0,1,0A1,0.5,0,1,0,-1,0Z", "size": 900, "stroke": "#000", "strokeWidth": 1.5, "opacity": 1},
          "encoding": {
            "x": {"field": "t", "type": "quantitative", "scale": {"domain": [1995, 2013], "nice": false, "zero": false},
                  "axis": {"orient": "top", "values": [1995,1996,1997,1998,1999,2000,2001,2002,2003,2004,2005,2006,2007,2008,2009,2010,2011,2012,2013], "labels": false, "title": null}},
            "y": {"field": "p", "type": "quantitative", "scale": {"domain": [0, 70], "nice": false, "zero": false},
                  "axis": {"orient": "right", "values": [0,10,20,30,40,50,60], "format": "d", "labelPadding": 17, "labelFontSize": 18, "title": "Percent Ice Cover", "titleFontSize": 24, "titlePadding": 8}},
            "fill": {"condition": {"test": "datum.h", "value": "#ffffff"}, "value": "#000000"}
          }
        },
        {
          "data": {"name": "anom"},
          "mark": {"type": "line", "strokeWidth": 2},
          "encoding": {
            "x": {"field": "t", "type": "quantitative", "scale": {"domain": [1995, 2013], "nice": false, "zero": false},
                  "axis": {"orient": "bottom", "values": [1995,1996,1997,1998,1999,2000,2001,2002,2003,2004,2005,2006,2007,2008,2009,2010,2011,2012,2013], "labelExpr": "(datum.value % 2 == 0 && datum.value < 2013) ? ('' + datum.value) : ''", "labelOffset": 30, "labelPadding": 31, "labelFontSize": 22, "title": null}},
            "y": {"field": "v", "type": "quantitative", "scale": {"domain": [-4, 4], "nice": false, "zero": false},
                  "axis": {"orient": "left", "values": [-4,-3,-2,-1,0,1,2,3,4], "labelExpr": "datum.value % 2 == 0 ? ((datum.value < 0 ? '-' : '') + format(abs(datum.value), '.1f')) : ''", "labelPadding": 14, "title": "Temperature (°C)", "titlePadding": 4}},
            "color": {"field": "c", "type": "nominal", "scale": {"domain": ["neg", "pos"], "range": ["#1a45ff", "#ff2a18"]}, "legend": null},
            "detail": {"field": "s"}
          }
        }
      ],
      "resolve": {"scale": {"x": "independent", "y": "independent"}}
    }
  ]
}
